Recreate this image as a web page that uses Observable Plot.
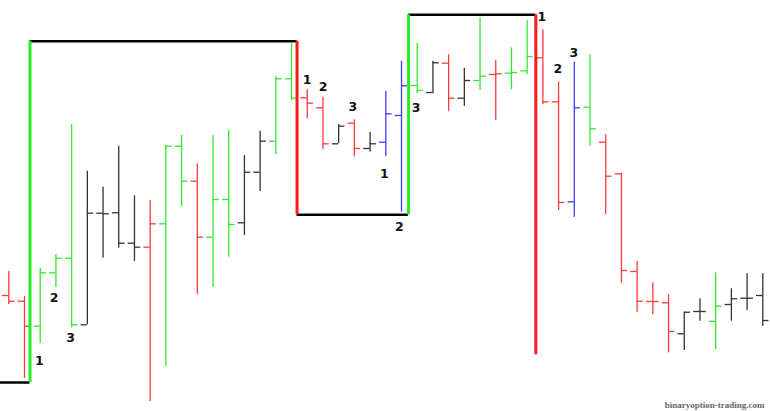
<!DOCTYPE html>
<html><head><meta charset="utf-8">
<script src="https://cdn.jsdelivr.net/npm/d3@7"></script>
<script src="https://cdn.jsdelivr.net/npm/@observablehq/plot@0.6"></script>
<style>body{margin:0;background:#fff}</style>
</head><body><div id="chart"></div>
<script>
// OHLC bars (price units), one per session
const highs  = [140,115,143.3,157,286.7,240.3,224.3,265.3,215.7,211,266,276,247.7,276,281,256,280.3,335,367.7,321.7,314.3,287,291.7,279.3,320,350.3,368.3,350.3,356.7,343.3,393.7,351,363.7,391,381.7,329.3,349.3,356.7,276.7,238.3,150,128.7,116.7,99.3,112.7,138.7,122.7,137.7,137.7];
const lows   = [107,33,68,124,83.7,86.7,153.3,163.3,150,10,45,205,117,123.7,154.3,176,220,256.7,311,292.7,262,267.7,255,259.3,255,199.3,317.7,317.7,300,305.3,321,291,321.7,337,307,201,194.3,265.3,197,128.3,99.3,96.7,58.7,61,90.3,62,90.3,101,85];
const opens  = [116,110.3,85.3,138.7,153.3,86.7,198.3,198.7,168.3,164.3,187.7,265.3,230.3,174.3,212,188.7,239.3,270.3,332.7,313.7,303.7,267.7,288.3,263,269.3,296,326,319,348.3,313.3,331,337,338.3,340.7,353.7,309.7,209.7,304.3,269.3,237.7,140,110,108.7,77.7,100,90,107,113.3,116];
const closes = [110.3,85.3,138.7,153.3,86.7,198.3,197.7,168.3,164.3,187.7,265.3,230.3,174.3,212,187,239.3,270.3,332.7,313.3,308.3,267.7,285.3,263,267.7,297.7,325.7,321,348.7,313.3,331,335.3,337.7,339,355,309.7,209,303.7,282.7,235.3,141,110.3,110,80,99.3,100,105.3,112.7,113.3,91];
const barKinds = ["r","r","g","g","g","k","k","k","k","r","g","g","r","g","g","k","k","g","g","r","r","k","r","k","b","b","g","k","r","k","g","r","g","g","r","r","b","g","r","r","r","r","r","k","k","g","k","k","k"];

// swing line: turning points (bar position, price)
const swingX     = [-0.53, 1.35, 18.35, 25.45, 33.55];
const swingPrice = [29, 370.3, 196.7, 396.7, 56.7];

// point labels
const labelText  = ["1","2","3","1","2","3","1","2","3","1","2","3"];
const labelIndex = [1.95,2.89,3.93,18.99,20.01,21.9,23.9,24.87,25.93,33.93,34.95,35.97];
const labelPrice = [51,114,74,332,325,305,238,185,304,395,343,359];

const watermark = "binaryoption-trading.com";

const palette = {r:"#ff3a3a", g:"#33e833", b:"#3c3cff", k:"#333333"};
const idx = d3.range(highs.length);
const tw = 0.4;

const hSeg = d3.range(swingX.length - 1);
const vSeg = d3.range(1, swingX.length);

const chart = Plot.plot({
  width: 770, height: 411,
  margin: 0,
  x: {domain: [0, highs.length - 1], range: [8.3, 762.3], axis: null},
  y: {domain: [0, 411], range: [411, 0], axis: null},
  color: {type: "identity"},
  style: {background: "#fff", overflow: "visible"},
  marks: [
    Plot.ruleX(idx, {x: i => i, y1: i => lows[i], y2: i => highs[i], stroke: i => palette[barKinds[i]], strokeWidth: 1.3}),
    Plot.ruleY(idx, {y: i => opens[i], x1: i => i - tw, x2: i => i, stroke: i => palette[barKinds[i]], strokeWidth: 1.3}),
    Plot.ruleY(idx, {y: i => closes[i], x1: i => i, x2: i => i + tw, stroke: i => palette[barKinds[i]], strokeWidth: 1.3}),
    Plot.ruleY(hSeg, {y: k => swingPrice[k], x1: k => swingX[k], x2: k => swingX[k + 1], stroke: "#000", strokeWidth: 2.5}),
    Plot.ruleX(vSeg, {x: k => swingX[k], y1: k => swingPrice[k - 1], y2: k => swingPrice[k],
      stroke: k => swingPrice[k] > swingPrice[k - 1] ? "#22ee22" : "#ff1a1a", strokeWidth: 3}),
    Plot.text(labelText, {x: (d, j) => labelIndex[j], y: (d, j) => labelPrice[j], text: d => d,
      fontSize: 12.5, fontWeight: "bold", fill: "#111", fontFamily: "DejaVu Sans, sans-serif"}),
    Plot.text([watermark], {frameAnchor: "bottom-right", dx: -6, dy: -4, text: d => d,
      fontSize: 9, fontWeight: "bold", fill: "#666", fontFamily: "Liberation Serif, serif"})
  ]
});
document.getElementById("chart").append(chart);
</script>
</body></html>
